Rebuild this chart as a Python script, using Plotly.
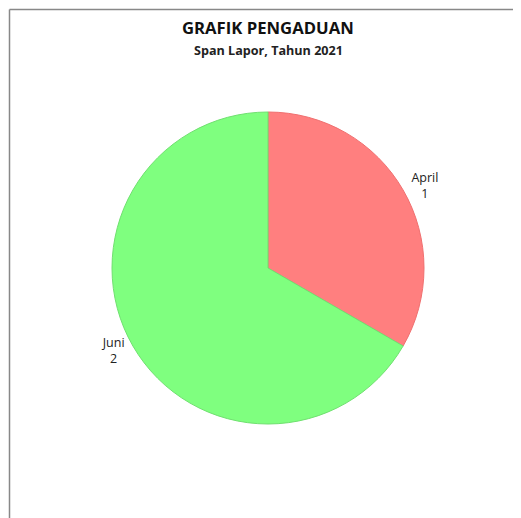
import plotly.graph_objects as go

months = ["April", "Juni"]
counts = [1, 2]
slice_colors = ["#FF7F7F", "#7FFF7F"]
line_colors = ["#F07070", "#70E070"]

OFF = 8  # default body margin of the page
W, H = 521 - OFF, 518 - OFF
cx, cy, r = 268 - OFF, 268 - OFF, 156

fig = go.Figure(go.Pie(
    labels=months,
    values=counts,
    sort=False,
    direction="clockwise",
    rotation=0,
    marker=dict(colors=slice_colors, line=dict(color=line_colors, width=1)),
    texttemplate="%{label}<br>%{value}",
    textposition="outside",
    textfont=dict(family="Open Sans", size=12.5, color="#222222"),
    hoverinfo="label+value",
    domain=dict(x=[(cx - r) / W, (cx + r) / W], y=[(H - cy - r) / H, (H - cy + r) / H]),
    showlegend=False,
))

fig.update_layout(
    width=W, height=H,
    margin=dict(l=0, r=0, t=0, b=0),
    paper_bgcolor="white",
    plot_bgcolor="white",
    font=dict(family="Open Sans"),
    annotations=[
        dict(text="<b>GRAFIK PENGADUAN</b>", x=cx / W, y=(H - (28 - OFF)) / H, xref="paper", yref="paper",
             showarrow=False, xanchor="center", yanchor="middle",
             font=dict(family="Open Sans", size=16.7, color="#111111")),
        dict(text="<b>Span Lapor, Tahun 2021</b>", x=cx / W, y=(H - (50 - OFF)) / H, xref="paper", yref="paper",
             showarrow=False, xanchor="center", yanchor="middle",
             font=dict(family="Open Sans", size=12.6, color="#222222")),
    ],
    shapes=[
        dict(type="line", xref="paper", yref="paper", x0=1.5 / W, x1=1.0, y0=(H - 1.5) / H, y1=(H - 1.5) / H,
             line=dict(color="#888888", width=1.5)),
        dict(type="line", xref="paper", yref="paper", x0=1.5 / W, x1=1.5 / W, y0=0, y1=(H - 1.5) / H,
             line=dict(color="#888888", width=1.5)),
    ],
)

fig.write_html("out.html")
